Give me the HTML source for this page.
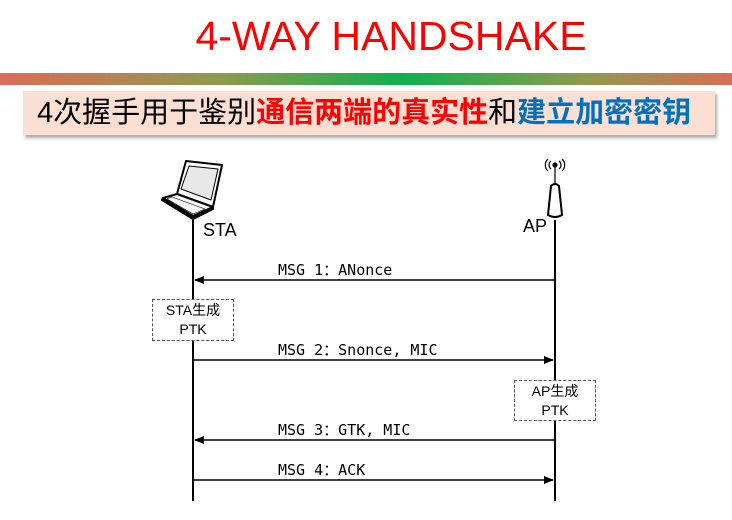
<!DOCTYPE html>
<html><head><meta charset="utf-8"><style>
body{margin:0;width:732px;height:520px;background:#fff;position:relative;overflow:hidden;font-family:"Liberation Sans","Noto Sans CJK SC",sans-serif}
.t{position:absolute;left:0;width:782px;top:11px;text-align:center;color:#f00;font-size:41px;line-height:50px}
.bar{position:absolute;left:0;top:73px;width:732px;height:12px;background:linear-gradient(90deg,#dd6b58,#8f9a4f 30%,#0fb04e 55%,#8f9a4f 80%,#d86e58)}
.sub{position:absolute;left:23px;top:91px;width:692px;height:44px;background:#fbdfd3;box-shadow:2px 3px 3px #aaa;font-size:29px;line-height:44px;padding-left:14px;box-sizing:border-box;white-space:nowrap}
.r{color:#f00;font-weight:bold}.b{color:#0070c0;font-weight:bold}
.m{position:absolute;font-family:"DejaVu Sans Mono","Liberation Mono",monospace;font-size:15px;left:278px;line-height:16px}
.bx{position:absolute;border:1px dashed #555;background:#fff;text-align:center;font-size:14px;line-height:19px;box-sizing:border-box}
.lb{position:absolute;font-size:18px}
</style></head><body>
<div class="t">4-WAY HANDSHAKE</div>
<div class="bar"></div>
<div class="sub">4次握手用于鉴别<span class="r">通信两端的真实性</span>和<span class="b">建立加密密钥</span></div>
<svg style="position:absolute;left:0;top:0" width="732" height="520">
<defs><marker id="a" markerWidth="10" markerHeight="8" refX="9" refY="4" orient="auto" markerUnits="userSpaceOnUse"><path d="M0,0L10,4L0,8z" fill="#000"/></marker></defs>
<line x1="193" y1="215" x2="193" y2="501" stroke="#000" stroke-width="2"/>
<line x1="555" y1="220" x2="555" y2="501" stroke="#000" stroke-width="2"/>
<g stroke="#000" stroke-width="1.5" marker-end="url(#a)">
<line x1="555" y1="280" x2="195" y2="280"/>
<line x1="193" y1="360" x2="553" y2="360"/>
<line x1="555" y1="440" x2="195" y2="440"/>
<line x1="193" y1="480" x2="553" y2="480"/>
</g>
<!-- laptop -->
<g stroke="#000" stroke-width="2" stroke-linejoin="round">
<path d="M186,161 L222,165 L213,207 L177,194 Z" fill="#fff"/>
<path d="M189,166 L218,169 L211,200 L181,189 Z" fill="#e8e8e8" stroke-width="1"/>
<path d="M177,194 L213,207 L193,216 L163,198 Z" fill="#f4f4f4"/>
<path d="M172,197 L205,209 L193,214 L167,199 Z" fill="none" stroke-width="0.6"/>
<path d="M163,198 L193,216 L193,219 L162,200 Z" fill="#000"/>
<path d="M193,216 L213,207 L213,209 L193,219 Z" fill="#000"/>
</g>
<!-- AP -->
<g stroke="#000" fill="none" stroke-width="1.2">
<path d="M551,161 a5,5 0 0,0 0,8"/><path d="M559,161 a5,5 0 0,1 0,8"/>
<path d="M548,159 a8,8 0 0,0 0,12"/><path d="M562,159 a8,8 0 0,1 0,12"/>
<circle cx="555" cy="165" r="2" fill="#000"/>
<line x1="555" y1="166" x2="555" y2="185"/>
<path d="M551,186 Q555,182 559,186 L562,215 Q555,219 548,215 Z" fill="#fff" stroke-width="2"/>
</g>
</svg>
<div class="lb" style="left:203px;top:220px">STA</div>
<div class="lb" style="left:523px;top:216px">AP</div>
<div class="m" style="top:262px">MSG 1：ANonce</div>
<div class="m" style="top:342px">MSG 2：Snonce, MIC</div>
<div class="m" style="top:422px">MSG 3：GTK, MIC</div>
<div class="m" style="top:462px">MSG 4：ACK</div>
<div class="bx" style="left:152px;top:299px;width:82px;height:42px;padding-top:1px">STA生成<br>PTK</div>
<div class="bx" style="left:514px;top:380px;width:82px;height:41px;padding-top:1px">AP生成<br>PTK</div>
</body></html>
